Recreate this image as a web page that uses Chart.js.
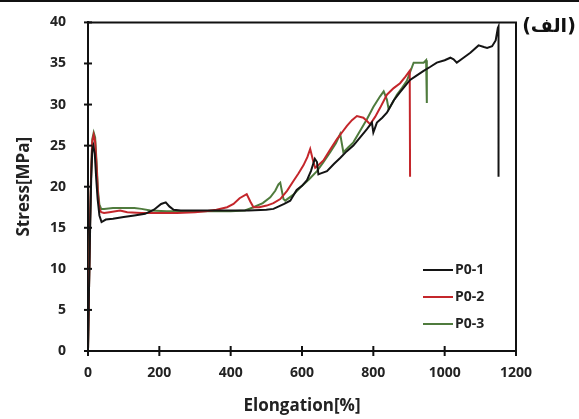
<!DOCTYPE html>
<html>
<head>
<meta charset="utf-8">
<script src="https://cdn.jsdelivr.net/npm/chart.js@4"></script>
<style>
  html, body { margin: 0; padding: 0; background: #fff; }
  #wrap { width: 579px; height: 419px; }
</style>
</head>
<body>
<div id="wrap"><canvas id="chart" width="579" height="419"></canvas></div>
<script>
// sample names + colours
const seriesNames = ['P0-1', 'P0-2', 'P0-3'];
const seriesColors = ['#141414', '#c4262b', '#4f7b3d'];

// P0-1 (black)
const p1X = [0, 3, 6, 9, 12, 15, 19, 23, 27, 32, 38, 50, 70, 100, 130, 160, 185, 205, 218, 228, 240, 260, 300, 350, 400, 450, 500, 520, 535, 550, 567, 585, 600, 614, 625, 636, 642, 646, 651, 670, 690, 707, 725, 744, 763, 782, 796, 800, 805, 810, 825, 838, 857, 875, 903, 920, 941, 960, 978, 1000, 1016, 1025, 1034, 1050, 1072, 1095, 1110, 1119, 1133, 1143, 1149, 1151, 1151];
const p1Y = [0, 8, 15, 21, 24.5, 25, 24, 21, 18.5, 16.5, 15.7, 16, 16.1, 16.3, 16.5, 16.7, 17.2, 17.9, 18.1, 17.6, 17.2, 17.1, 17.1, 17.1, 17.1, 17.1, 17.2, 17.3, 17.6, 17.9, 18.3, 19.6, 20.1, 20.8, 21.9, 23.4, 23, 21.5, 21.6, 21.9, 22.8, 23.5, 24.3, 25, 26, 27, 27.8, 26.6, 27.2, 27.8, 28.4, 29, 30.5, 31.5, 33, 33.5, 34.1, 34.6, 35.1, 35.4, 35.7, 35.5, 35.1, 35.6, 36.3, 37.2, 37, 36.9, 37.1, 37.8, 39.3, 39.5, 21.2];

// P0-2 (red)
const p2X = [0, 3, 6, 9, 12, 16, 20, 24, 28, 32, 37, 45, 60, 90, 110, 150, 200, 250, 300, 330, 360, 390, 408, 425, 445, 455, 464, 480, 501, 520, 539, 558, 576, 590, 604, 615, 623, 632, 637, 648, 660, 680, 698, 712, 726, 740, 754, 772, 782, 791, 805, 819, 838, 857, 875, 890, 902, 903];
const p2Y = [0, 8, 16, 22, 25.5, 26.3, 25.5, 22.5, 19, 17.3, 16.9, 16.8, 16.9, 17.1, 16.9, 16.8, 16.8, 16.8, 16.9, 17.0, 17.2, 17.5, 17.9, 18.6, 19.1, 18.2, 17.5, 17.5, 17.7, 18.0, 18.5, 19.5, 20.7, 21.6, 22.6, 23.6, 24.6, 23, 22.3, 22.7, 23.2, 24.6, 25.8, 26.6, 27.4, 28.1, 28.6, 28.4, 28, 27.6, 28.5, 29.6, 31.2, 32, 32.6, 33.4, 34.1, 21.2];

// P0-3 (green)
const p3X = [0, 3, 6, 9, 12, 16, 20, 24, 28, 32, 37, 45, 70, 100, 130, 150, 175, 220, 300, 400, 440, 464, 490, 511, 525, 534, 539, 548, 553, 575, 595, 620, 642, 660, 679, 695, 707, 716, 730, 744, 763, 782, 800, 819, 829, 838, 843, 855, 866, 880, 894, 913, 930, 941, 948, 950];
const p3Y = [0, 8, 16, 22, 25.8, 26.6, 26, 23, 19.5, 17.8, 17.3, 17.3, 17.4, 17.4, 17.4, 17.3, 17.1, 17.0, 17.0, 17.0, 17.1, 17.5, 18.0, 18.7, 19.5, 20.3, 20.5, 18.5, 18.3, 19.0, 19.9, 20.9, 21.9, 23, 24.2, 25.3, 26.4, 24.2, 24.8, 25.4, 26.8, 28.2, 29.7, 31, 31.6, 30.6, 29.4, 30.3, 31.2, 32, 32.9, 35.1, 35.1, 35.1, 35.4, 30.2];

const xTickStep = 200;
const yTickStep = 5;

function toPoints(xs, ys) {
  return xs.map((x, i) => ({ x: x, y: ys[i] }));
}

const allX = [p1X, p2X, p3X];
const allY = [p1Y, p2Y, p3Y];

const tickFont = { family: '"Open Sans", sans-serif', size: 14, weight: 'bold' };
const titleFont = { family: '"Open Sans", sans-serif', size: 17, weight: 'bold' };

// tick marks crossing the axes, frame on top/right, legend and panel label
const decorPlugin = {
  id: 'decor',
  afterDraw(chart) {
    const ctx = chart.ctx;
    const a = chart.chartArea;
    const xs = chart.scales.x;
    const ys = chart.scales.y;
    ctx.save();

    // strip along the very top of the picture
    ctx.fillStyle = '#111';
    ctx.fillRect(0, 0, chart.width, 2);

    // frame
    ctx.strokeStyle = '#111';
    ctx.lineWidth = 2;
    ctx.beginPath();
    ctx.moveTo(a.left, a.top);
    ctx.lineTo(a.right, a.top);
    ctx.lineTo(a.right, a.bottom);
    ctx.stroke();

    // crossing ticks
    ctx.lineWidth = 2;
    ys.ticks.forEach(t => {
      const py = ys.getPixelForValue(t.value);
      ctx.beginPath();
      ctx.moveTo(a.left - 4, py);
      ctx.lineTo(a.left + 4, py);
      ctx.stroke();
    });
    xs.ticks.forEach(t => {
      const px = xs.getPixelForValue(t.value);
      ctx.beginPath();
      ctx.moveTo(px, a.bottom - 5);
      ctx.lineTo(px, a.bottom + 5);
      ctx.stroke();
    });

    // legend
    ctx.font = 'bold 14px "Open Sans", sans-serif';
    ctx.textBaseline = 'middle';
    ctx.textAlign = 'left';
    chart.data.datasets.forEach((ds, i) => {
      const ly = 270 + i * 27;
      ctx.strokeStyle = ds.borderColor;
      ctx.lineWidth = 2;
      ctx.beginPath();
      ctx.moveTo(423, ly);
      ctx.lineTo(453, ly);
      ctx.stroke();
      ctx.fillStyle = '#222';
      ctx.fillText(ds.label, 455, ly);
    });

    // panel label "(الف)" - pieces placed tightly
    ctx.font = 'bold 19px "DejaVu Sans", sans-serif';
    ctx.fillStyle = '#111';
    ctx.textAlign = 'left';
    const word = 'الف';
    const wOpen = ctx.measureText('(').width;
    const wWord = ctx.measureText(word).width;
    const wClose = ctx.measureText(')').width;
    let lx = 549 - (wOpen + wWord + wClose) / 2;
    ctx.fillText('(', lx, 27);
    ctx.fillText(word, lx + wOpen, 27);
    ctx.fillText(')', lx + wOpen + wWord, 27);
    ctx.restore();
  }
};

const ctx = document.getElementById('chart').getContext('2d');
const chart = new Chart(ctx, {
  type: 'line',
  data: {
    datasets: seriesNames.map((name, i) => ({
      label: name,
      data: toPoints(allX[i], allY[i]),
      borderColor: seriesColors[i],
      borderWidth: 2,
      pointRadius: 0,
      tension: 0,
      fill: false
    }))
  },
  options: {
    responsive: false,
    animation: false,
    layout: { padding: { top: 14, right: 63, left: 0, bottom: 0 } },
    plugins: {
      legend: { display: false },
      tooltip: { enabled: false }
    },
    scales: {
      x: {
        type: 'linear',
        min: 0,
        max: 1200,
        ticks: { stepSize: xTickStep, font: tickFont, color: '#222', padding: 6, maxRotation: 0,
                 callback: v => String(v) },
        grid: { display: false },
        border: { display: true, color: '#111', width: 2 },
        title: { display: true, text: 'Elongation[%]', font: titleFont, color: '#222', padding: { top: 0, bottom: 3 } },
        afterFit(scale) { scale.height = 68; }
      },
      y: {
        type: 'linear',
        min: 0,
        max: 40,
        ticks: { stepSize: yTickStep, font: tickFont, color: '#222', padding: 14,
                 callback: v => String(v) },
        grid: { display: false },
        border: { display: true, color: '#111', width: 2 },
        title: { display: true, text: 'Stress[MPa]', font: titleFont, color: '#222', padding: { top: 14, bottom: 0 } },
        afterFit(scale) { scale.width = 88; }
      }
    }
  },
  plugins: [decorPlugin]
});
</script>
</body>
</html>
